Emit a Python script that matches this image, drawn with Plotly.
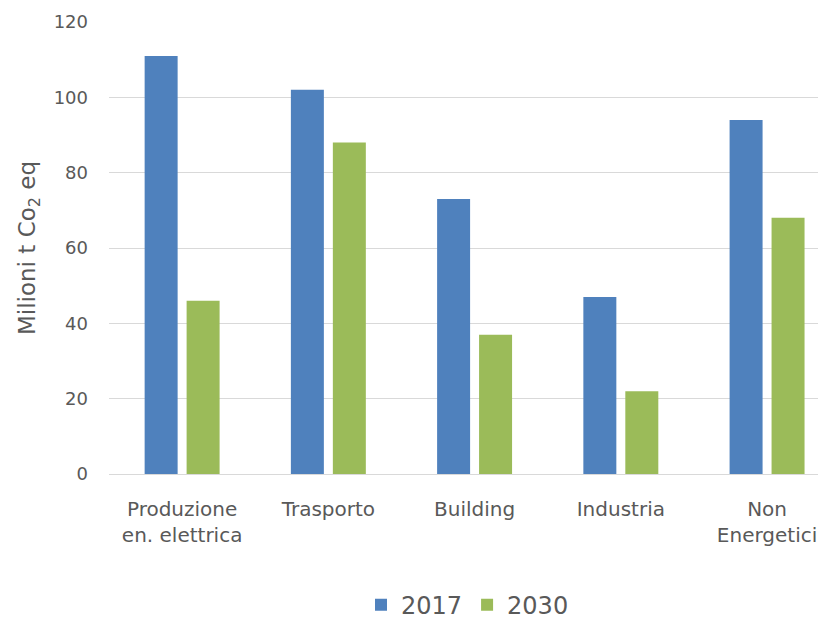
import plotly.graph_objects as go

categories = ["Produzione<br>en. elettrica", "Trasporto", "Building", "Industria", "Non<br>Energetici"]
values_2017 = [111, 102, 73, 47, 94]
values_2030 = [46, 88, 37, 22, 68]
y_ticks = [0, 20, 40, 60, 80, 100, 120]

FONT = "DejaVu Sans"
TXT = "#595959"

fig = go.Figure()
fig.add_trace(go.Bar(name="2017", x=categories, y=values_2017,
                     marker=dict(color="#4F81BD", line=dict(width=0))))
fig.add_trace(go.Bar(name="2030", x=categories, y=values_2030,
                     marker=dict(color="#9BBB59", line=dict(width=0))))

# page body has an 8px margin, so the figure is 8px smaller and offset
fig.update_layout(
    width=818, height=610,
    paper_bgcolor="white", plot_bgcolor="white",
    barmode="group", bargap=0.426, bargroupgap=0.214,
    margin=dict(l=101, r=0, t=14, b=144, autoexpand=False),
    font=dict(family=FONT, color=TXT, size=18),
    showlegend=True,
    legend=dict(orientation="h", x=0.5, xanchor="center",
                y=-0.29, yanchor="middle",
                font=dict(size=24, color=TXT), traceorder="normal"),
)
fig.update_xaxes(
    range=[-0.5, 4.403], showgrid=False, showline=False, ticks="",
    ticklabelstandoff=21, tickfont=dict(size=20, color=TXT), automargin=False,
)
fig.update_yaxes(
    range=[0, 120], tickvals=y_ticks, showgrid=True, gridcolor="#D9D9D9", gridwidth=1,
    zeroline=True, zerolinecolor="#D9D9D9", zerolinewidth=1, showline=False,
    ticklabelstandoff=20, tickfont=dict(size=18, color=TXT), automargin=False,
    title=dict(text="Milioni t Co<sub>2</sub> eq", font=dict(size=23, color=TXT), standoff=11),
)
fig.write_html("out.html")
